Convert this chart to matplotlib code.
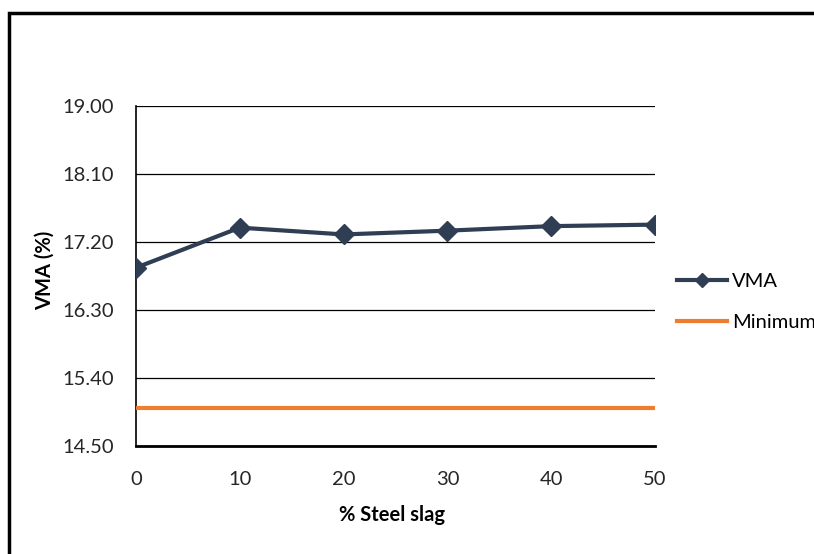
import matplotlib
matplotlib.use("Agg")
from matplotlib import pyplot as plt
from matplotlib import patches

# Steel slag content (%) and measured VMA (%)
slag = [0, 10, 20, 30, 40, 50]
vma = [16.86, 17.39, 17.30, 17.35, 17.41, 17.43]
vma_min = [15.0, 15.0, 15.0, 15.0, 15.0, 15.0]
yticks = [14.50, 15.40, 16.30, 17.20, 18.10, 19.00]

plt.rcParams["font.family"] = ["Lato", "DejaVu Sans"]

W, H = 814, 554
fig = plt.figure(figsize=(W / 100, H / 100), dpi=100)
fig.patch.set_facecolor("white")

# plot area: left 136, right 655, top 106, bottom 446 (pixels)
ax = fig.add_axes([136 / W, 1 - 446 / H, (655 - 136) / W, (446 - 106) / H])

ax.plot(slag, vma, color="#2F3E53", lw=3.0, marker="D", markersize=10, label="VMA", zorder=3)
ax.plot(slag, vma_min, color="#ED7D31", lw=3.0, label="Minimum", zorder=3)

ax.set_xlim(0, 50)
ax.set_ylim(14.5, 19.0)
ax.set_xticks(slag)
ax.set_yticks(yticks)
ax.set_yticklabels(["{:.2f}".format(v) for v in yticks])
ax.tick_params(length=0, labelsize=14.5, colors="#262626")
ax.tick_params(axis="x", pad=18)
ax.tick_params(axis="y", pad=16)

# horizontal gridlines, frame only on left and bottom
ax.grid(axis="y", color="black", lw=0.9)
ax.set_axisbelow(True)
for side in ("top", "right"):
    ax.spines[side].set_visible(False)
ax.spines["left"].set_linewidth(1.2)
ax.spines["bottom"].set_linewidth(2.0)

xl = ax.set_xlabel("% Steel slag", fontsize=14.5, fontweight="bold")
ax.xaxis.set_label_coords((392 - 136) / 519, (446 - 515) / 340)
xl.set_va("center")
yl = ax.set_ylabel("VMA (%)", fontsize=14.5, fontweight="bold")
ax.yaxis.set_label_coords((45 - 136) / 519, (446 - 270) / 340)
yl.set_va("center")

# legend sits outside the plot area and runs off the right edge
ax.legend(loc="upper left", bbox_to_anchor=((677 - 136) / 519, (446 - 273) / 340),
          borderaxespad=0, borderpad=0, frameon=False, fontsize=14.5,
          handlelength=2.5, handletextpad=0.25, labelspacing=1.2, markerscale=0.75)

# outer chart frame
fig.patches.append(patches.Rectangle((9 / W, 1 - 580 / H), 830 / W, 567 / H,
                                     transform=fig.transFigure, fill=False,
                                     edgecolor="black", lw=2.5))

plt.savefig("out.png", dpi=100)
